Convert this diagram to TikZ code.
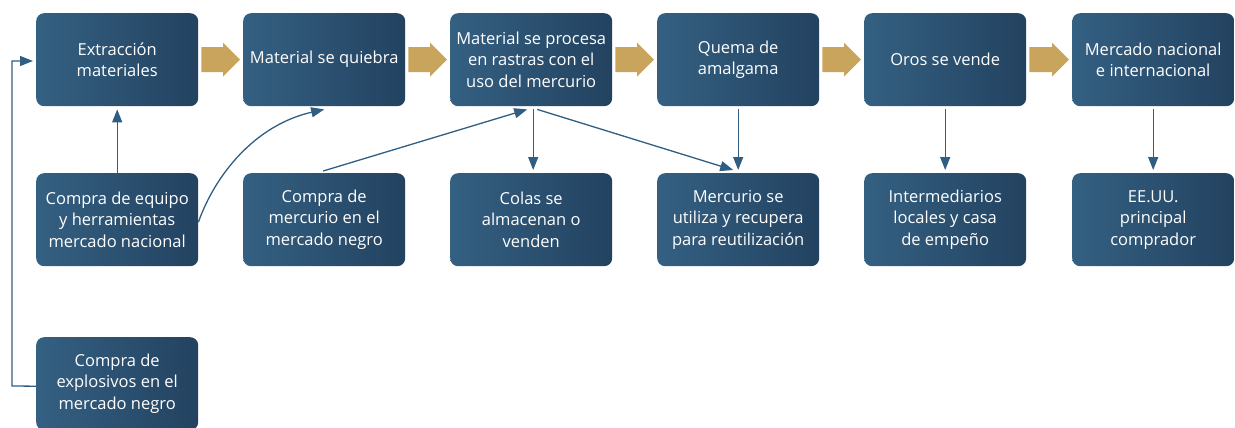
\documentclass[tikz,border=0pt]{standalone}
\usepackage{fontspec}
\setmainfont{Open Sans}
\usetikzlibrary{arrows.meta}
\definecolor{boxL}{RGB}{52,96,130}
\definecolor{boxR}{RGB}{35,66,96}
\definecolor{lineC}{RGB}{47,94,130}
\definecolor{goldC}{RGB}{201,164,92}
\tikzset{
  box/.style={rounded corners=8pt, left color=boxL, right color=boxR, draw=none,
    minimum width=162pt, minimum height=93pt, inner sep=2pt, text=white,
    align=center, font=\fontsize{16.5}{21.5}\selectfont, anchor=north west},
  conn/.style={draw=lineC, line width=1.3pt, -{Triangle[length=13pt,width=10pt]}},
  fat/.style={fill=goldC, draw=none}
}
\begin{document}
\begin{tikzpicture}[x=1pt,y=-1pt]
\useasboundingbox (0,0) rectangle (1235,428);
% top row
\node[box] (a1) at (36,13) {Extracción\\materiales};
\node[box] (a2) at (243,13) {Material se quiebra};
\node[box] (a3) at (450,13) {Material se procesa\\en rastras con el\\uso del mercurio};
\node[box] (a4) at (657,13) {Quema de\\amalgama};
\node[box] (a5) at (864,13) {Oros se vende};
\node[box] (a6) at (1072,13) {Mercado nacional\\e internacional};
% second row
\node[box] (b1) at (36,173) {Compra de equipo\\y herramientas\\mercado nacional};
\node[box] (b2) at (243,173) {Compra de\\mercurio en el\\mercado negro};
\node[box] (b3) at (450,173) {Colas se\\almacenan o\\venden};
\node[box] (b4) at (657,173) {Mercurio se\\utiliza y recupera\\para reutilización};
\node[box] (b5) at (864,173) {Intermediarios\\locales y casa\\de empeño};
\node[box] (b6) at (1072,173) {EE.UU.\\principal\\comprador};
% third row
\node[box] (c1) at (36,337) {Compra de\\explosivos en el\\mercado negro};
% fat arrows
\foreach \p/\n in {a1/a2,a2/a3,a3/a4,a4/a5,a5/a6}{
  \path ([xshift=3pt]\p.east) coordinate (s) ([xshift=-3pt]\n.west) coordinate (e);
  \path[fat] ([yshift=-12.5pt]s) -- ([yshift=-12.5pt,xshift=-17pt]e) -- ([yshift=-17pt,xshift=-17pt]e)
     -- (e) -- ([yshift=17pt,xshift=-17pt]e) -- ([yshift=12.5pt,xshift=-17pt]e) -- ([yshift=12.5pt]s) -- cycle;
}
% connectors
\draw[conn] (b1.north) -- ([yshift=-3pt]a1.south);
\draw[conn] ([yshift=-2.5pt]b1.east) .. controls (215,175) and (255,125) .. ([yshift=-3pt]a2.south);
\draw[conn] ([xshift=-1pt,yshift=2pt]b2.north) -- ([xshift=-4pt,yshift=-3pt]a3.south);
\draw[conn] ([xshift=2pt,yshift=-3pt]a3.south) -- ([xshift=2pt,yshift=3pt]b3.north);
\draw[conn] ([xshift=6pt,yshift=-3pt]a3.south) -- ([xshift=-5pt,yshift=3pt]b4.north);
\draw[conn] ([yshift=-3pt]a4.south) -- ([yshift=3pt]b4.north);
\draw[conn] ([yshift=-3pt]a5.south) -- ([yshift=3pt]b5.north);
\draw[conn] ([yshift=-3pt]a6.south) -- ([yshift=3pt]b6.north);
\coordinate (cw) at ([yshift=-2.5pt]c1.west);
\coordinate (aw) at ([xshift=-3pt]a1.west);
\coordinate (k1) at (12,386);
\coordinate (k2) at (12,61);
\draw[conn] (cw) -- (k1) -- (k2) -- (aw |- k2);
\end{tikzpicture}
\end{document}
